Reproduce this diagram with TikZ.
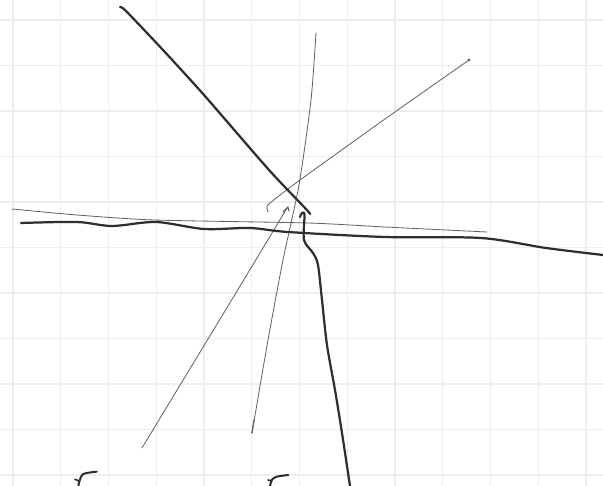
\documentclass[tikz,border=0pt]{standalone}
\usetikzlibrary{calc}

\begin{document}
\begin{tikzpicture}[x=0.03cm, y=-0.03cm,
    gridline/.style={line width=1.2pt, black!7},
    penthick/.style={line width=1.9pt, black!82, line cap=round, line join=round},
    penthin/.style={line width=0.7pt, black!62, line cap=round, line join=round}]

        % ==========================================
        % FOGLIO: quadretti
        % ==========================================
        \useasboundingbox (0,0) rectangle (603,486);
        \clip (0,0) rectangle (603,486);
        \fill[white] (0,0) rectangle (603,486);

        \foreach \i in {0,...,12}
            \draw[gridline] ({13+47.75*\i},0) -- ({13+47.75*\i},486);
        \foreach \j in {0,...,10}
            \draw[gridline] (0,{20+45.5*\j}) -- (603,{20+45.5*\j});

        % ==========================================
        % TRATTI SOTTILI
        % ==========================================

        % quasi verticale, dall'alto in basso
        \draw[penthin] plot[smooth, tension=0.4] coordinates {
            (316,33) (311,100) (299,185) (283,260) (268,340) (252,433)};
        \draw[penthin, line width=1.1pt] (254,420) -- (252,433);

        % verso l'alto a destra, con uncino
        \draw[penthin] plot[smooth, tension=0.4] coordinates {
            (469,60) (385,119) (300,180) (270,203) (267,208) (268,212)};
        \fill[black!62] (469,60) circle (1.6);

        % verso il basso a sinistra, con piccolo tratto in cima
        \draw[penthin] (142,448) .. controls (200,352) and (250,270) .. (287,208);
        \draw[penthin, line width=1pt] (283,212) -- (288,207) -- (289,211);

        % orizzontale sottile
        \draw[penthin] plot[smooth, tension=0.4] coordinates {
            (12,209) (77,215) (154,220) (308,223) (385,227) (487,232)};

        % ==========================================
        % TRATTI SPESSI
        % ==========================================

        % diagonale dall'alto a sinistra
        \draw[penthick] plot[smooth, tension=0.4] coordinates {
            (120,7) (126,11) (163,50) (204,95) (269,170) (306,209) (310,214)};

        % orizzontale ondulata
        \draw[penthick] plot[smooth, tension=0.5] coordinates {
            (21,223) (77,222) (112,226) (156,222) (204,229) (250,228) (288,232)
            (385,237) (481,238) (546,248) (603,255)};

        % verticale verso il basso, con uncino in cima
        \draw[penthick] plot[smooth, tension=0.5] coordinates {
            (300,217) (302,213) (304.5,215) (304,240) (313,253) (318,265)
            (322,300) (327,345) (335,390) (342,433) (350,486)};

        % segni in fondo
        \draw[penthick, line width=1.7pt] plot[smooth, tension=0.5] coordinates {
            (96.7,471.7) (83.3,474) (79.3,481.7) (78.3,487)};
        \draw[penthick, line width=1.4pt] (75,479.3) -- (79.3,481);
        \draw[penthick, line width=1.7pt] plot[smooth, tension=0.5] coordinates {
            (288.3,475) (276.7,476.7) (271.7,480) (270,487)};
        \draw[penthick, line width=1.4pt] (268,480) -- (272,481);

    \end{tikzpicture}
\end{document}
